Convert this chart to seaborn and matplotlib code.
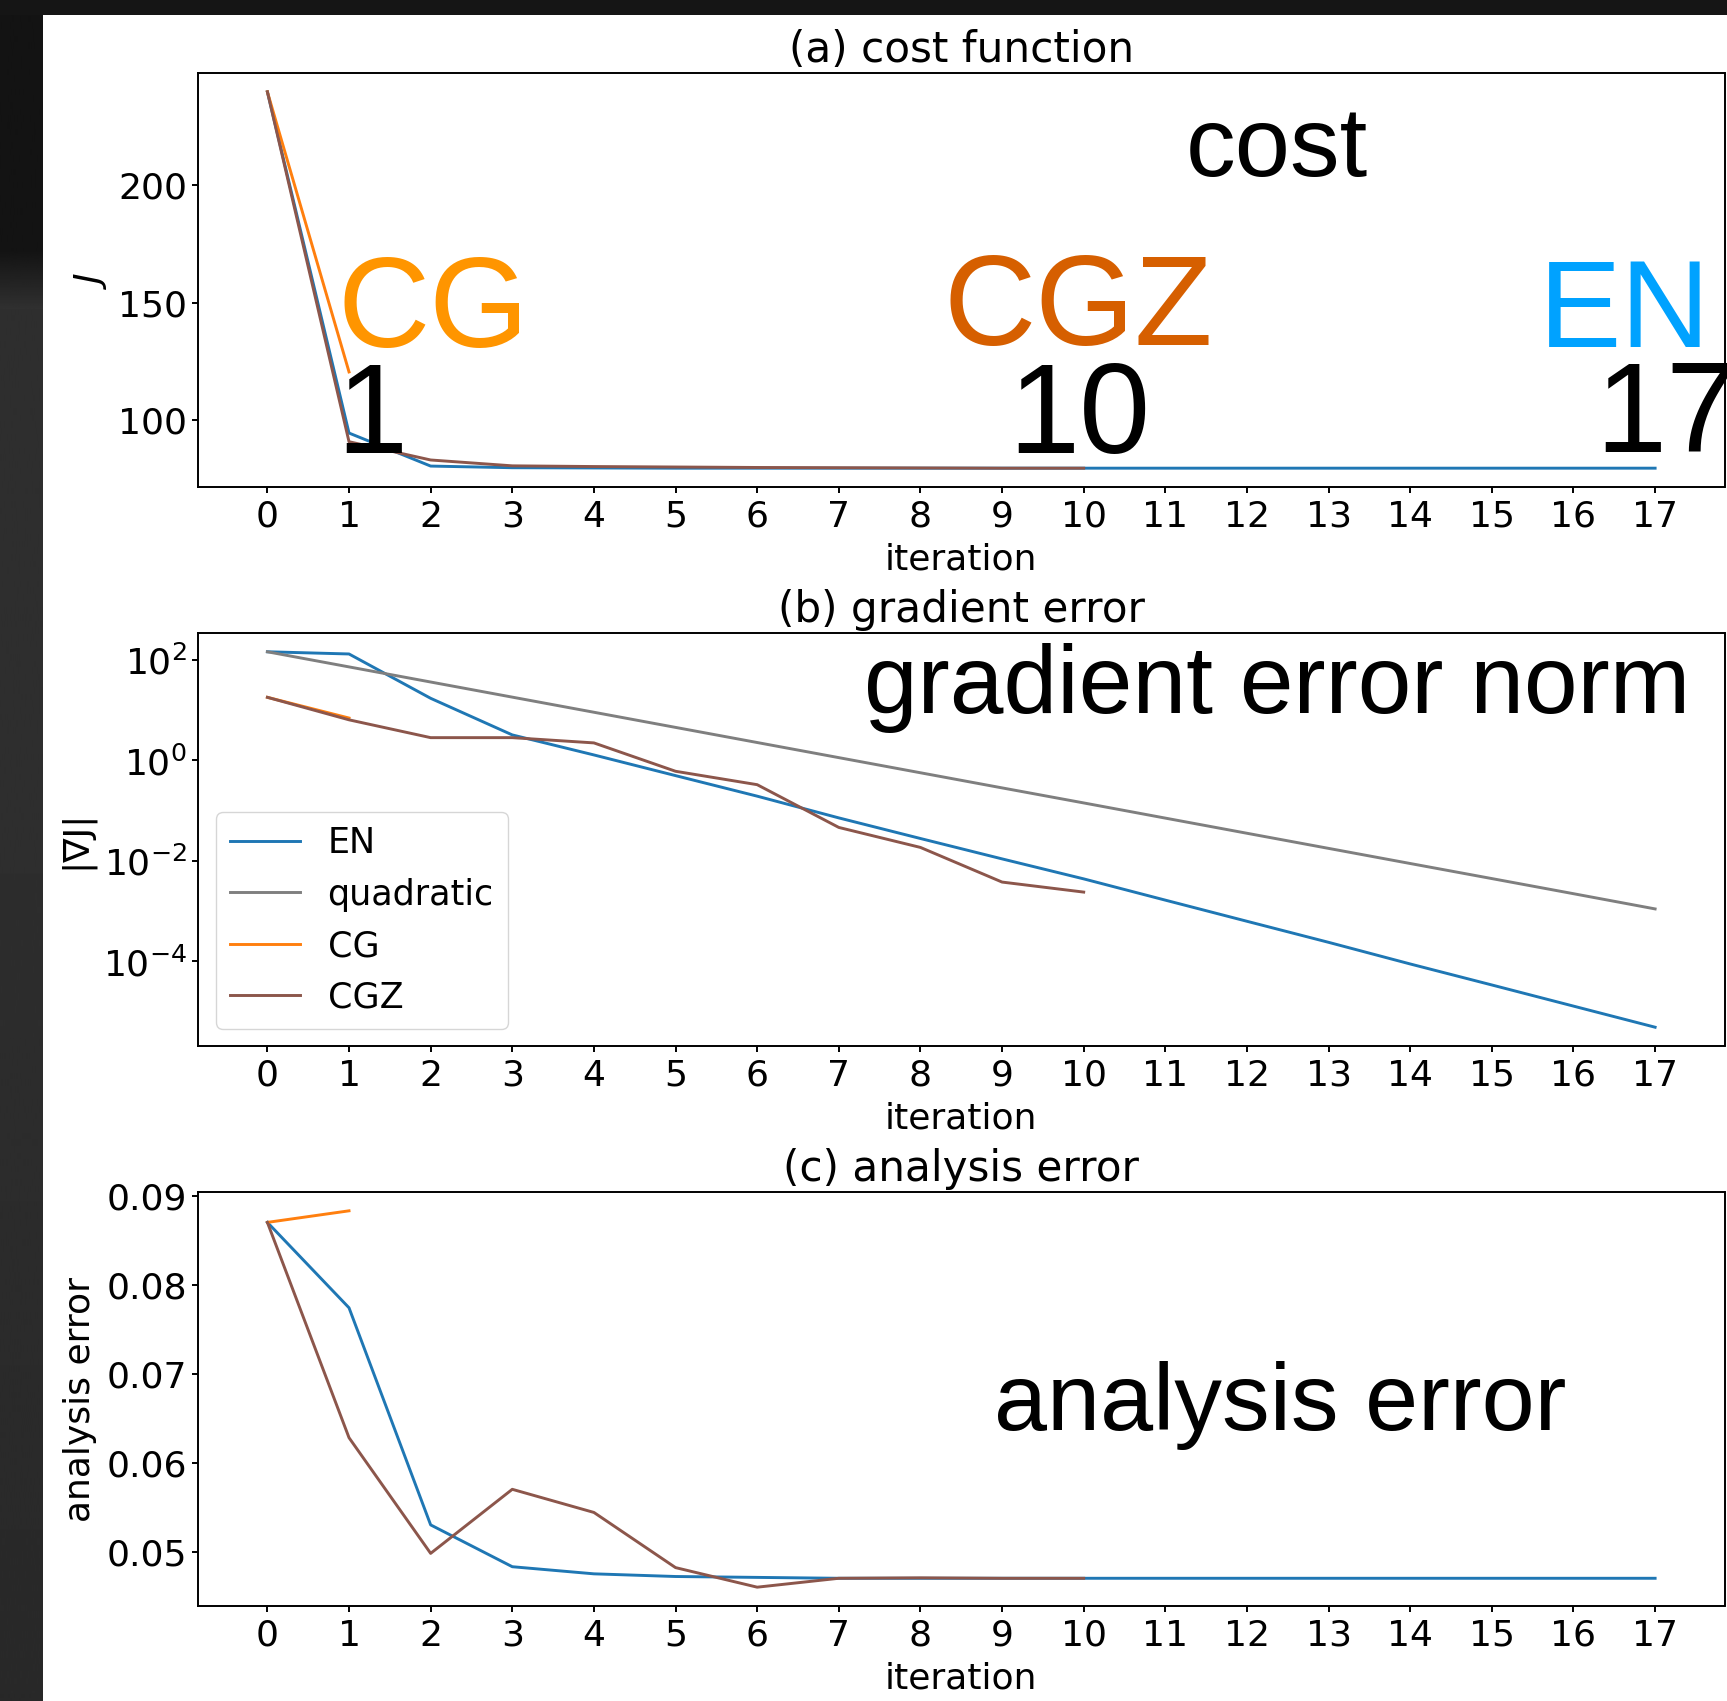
import numpy as np
import pandas as pd
import matplotlib
matplotlib.use("Agg")
import matplotlib.pyplot as plt
from matplotlib.patches import Rectangle
from matplotlib.ticker import NullLocator
import seaborn as sns

# ---------------- data ----------------
iters_en = list(range(18))
iters_cg = [0, 1]
iters_cgz = list(range(11))

cost_en = [240.0, 94.3, 80.2, 79.5, 79.4, 79.3, 79.3, 79.3, 79.3, 79.3,
           79.3, 79.3, 79.3, 79.3, 79.3, 79.3, 79.3, 79.3]
cost_cg = [240.0, 120.4]
cost_cgz = [240.0, 90.6, 82.8, 80.3, 80.0, 79.8, 79.6, 79.5, 79.4, 79.3, 79.3]

grad_en = [146, 132, 17.3, 3.23, 1.29, 0.50, 0.195, 0.072, 0.028, 0.011,
           0.0044, 0.00166, 0.00063, 0.00024, 8.9e-5, 3.4e-5, 1.29e-5, 4.9e-6]
grad_quad = [146, 73, 36.5, 18.25, 9.13, 4.56, 2.28, 1.14, 0.570, 0.285,
             0.143, 0.0713, 0.0356, 0.0178, 0.0089, 0.00446, 0.00223, 0.00111]
grad_cg = [18.1, 7.0]
grad_cgz = [18.1, 6.45, 2.85, 2.85, 2.24, 0.61, 0.33, 0.0465, 0.0186, 0.0038, 0.0024]

ana_en = [0.0870, 0.0774, 0.0530, 0.0483, 0.0475, 0.0472, 0.0471, 0.0470, 0.0470,
          0.0470, 0.0470, 0.0470, 0.0470, 0.0470, 0.0470, 0.0470, 0.0470, 0.0470]
ana_cg = [0.0870, 0.0883]
ana_cgz = [0.0870, 0.0628, 0.0498, 0.0570, 0.0544, 0.0482, 0.0460, 0.0470, 0.04705,
           0.0470, 0.0470]

xticks = list(range(18))
titles = ["(a) cost function", "(b) gradient error", "(c) analysis error"]
ylabels = ["$J$", "|∇J|", "analysis error"]

C_EN, C_Q, C_CG, C_CGZ = "#1f77b4", "#7f7f7f", "#ff7f0e", "#8c564b"

# ---------------- figure ----------------
W, H = 1727, 1701
plt.rcParams.update({
    "font.family": ["DejaVu Sans"],
    "font.size": 26,
    "axes.titlesize": 30.3,
    "axes.titlepad": 7.6,
    "axes.labelpad": 6.5,
    "axes.linewidth": 1.4,
    "xtick.major.size": 4.0,
    "ytick.major.size": 4.0,
    "xtick.major.pad": 5.2,
    "ytick.major.pad": 4.0,
    "xtick.major.width": 1.4,
    "ytick.major.width": 1.4,
    "lines.linewidth": 2.1,
})
fig = plt.figure(figsize=(W / 100, H / 100), dpi=100)


def axrect(left, top, right, bottom):
    return [left / W, 1 - bottom / H, (right - left) / W, (bottom - top) / H]


ax_a = fig.add_axes(axrect(198, 73, 1724.5, 487))
ax_b = fig.add_axes(axrect(198, 633, 1724.5, 1046))
ax_c = fig.add_axes(axrect(198, 1192, 1724.5, 1606))

lw = 2.1
# (a)
sns.lineplot(x=iters_en, y=cost_en, ax=ax_a, color=C_EN, lw=lw, legend=False)
sns.lineplot(x=iters_cg, y=cost_cg, ax=ax_a, color=C_CG, lw=lw, legend=False)
sns.lineplot(x=iters_cgz, y=cost_cgz, ax=ax_a, color=C_CGZ, lw=lw, legend=False)
ax_a.set_yticks([100, 150, 200])

# (b)
sns.lineplot(x=iters_en, y=grad_en, ax=ax_b, color=C_EN, lw=lw, label="EN")
sns.lineplot(x=iters_en, y=grad_quad, ax=ax_b, color=C_Q, lw=lw, label="quadratic")
sns.lineplot(x=iters_cg, y=grad_cg, ax=ax_b, color=C_CG, lw=lw, label="CG")
sns.lineplot(x=iters_cgz, y=grad_cgz, ax=ax_b, color=C_CGZ, lw=lw, label="CGZ")
ax_b.set_yscale("log")
ax_b.set_yticks([1e2, 1e0, 1e-2, 1e-4])
ax_b.yaxis.set_minor_locator(NullLocator())
ax_b.legend(loc="lower left", fontsize=25.2)

# (c)
sns.lineplot(x=iters_en, y=ana_en, ax=ax_c, color=C_EN, lw=lw, legend=False)
sns.lineplot(x=iters_cg, y=ana_cg, ax=ax_c, color=C_CG, lw=lw, legend=False)
sns.lineplot(x=iters_cgz, y=ana_cgz, ax=ax_c, color=C_CGZ, lw=lw, legend=False)
ax_c.set_yticks([0.05, 0.06, 0.07, 0.08, 0.09])

for ax, t, yl in zip([ax_a, ax_b, ax_c], titles, ylabels):
    ax.set_xlim(-0.85, 17.85)
    ax.set_xticks(xticks)
    ax.set_xlabel("iteration")
    ax.set_ylabel(yl)
    ax.set_title(t)
    ax.margins(y=0.05)

# ---------------- overlay annotations ----------------
def ftext(px, py, s, size, color="black"):
    fig.text(px / W, 1 - py / H, s, fontsize=size, color=color,
             family=["Liberation Sans", "DejaVu Sans"], ha="left", va="baseline")

ftext(1186, 176, "cost", 71.5)
ftext(337, 347, "CG", 92, "#FF9500")
ftext(944, 345, "CGZ", 92, "#D65F00")
ftext(1539, 347, "EN", 89, "#00A2FF")
ftext(336, 453, "1", 92)
ftext(1008, 453, "10", 92)
ftext(1595, 452, "17", 92)
ftext(864, 713, "gradient error norm", 69.5)
ftext(994, 1430, "analysis error", 68.7)

# ---------------- dark screenshot border ----------------
strip = fig.add_axes([0, 0, 43 / W, 1])
grad = np.concatenate([np.full(250, 0.075), np.linspace(0.075, 0.19, 60),
                       np.full(550, 0.18), np.linspace(0.18, 0.16, 841)])
strip.imshow(np.tile(grad[:, None], (1, 2)), cmap="gray", vmin=0, vmax=1,
             aspect="auto", extent=[0, 1, 0, 1], origin="upper", interpolation="bilinear")
strip.set_axis_off()
fig.add_artist(Rectangle((0, 1 - 15 / H), 1, 15 / H, transform=fig.transFigure,
                         facecolor="#151515", edgecolor="none", zorder=10))

fig.savefig("out.png", dpi=100)
